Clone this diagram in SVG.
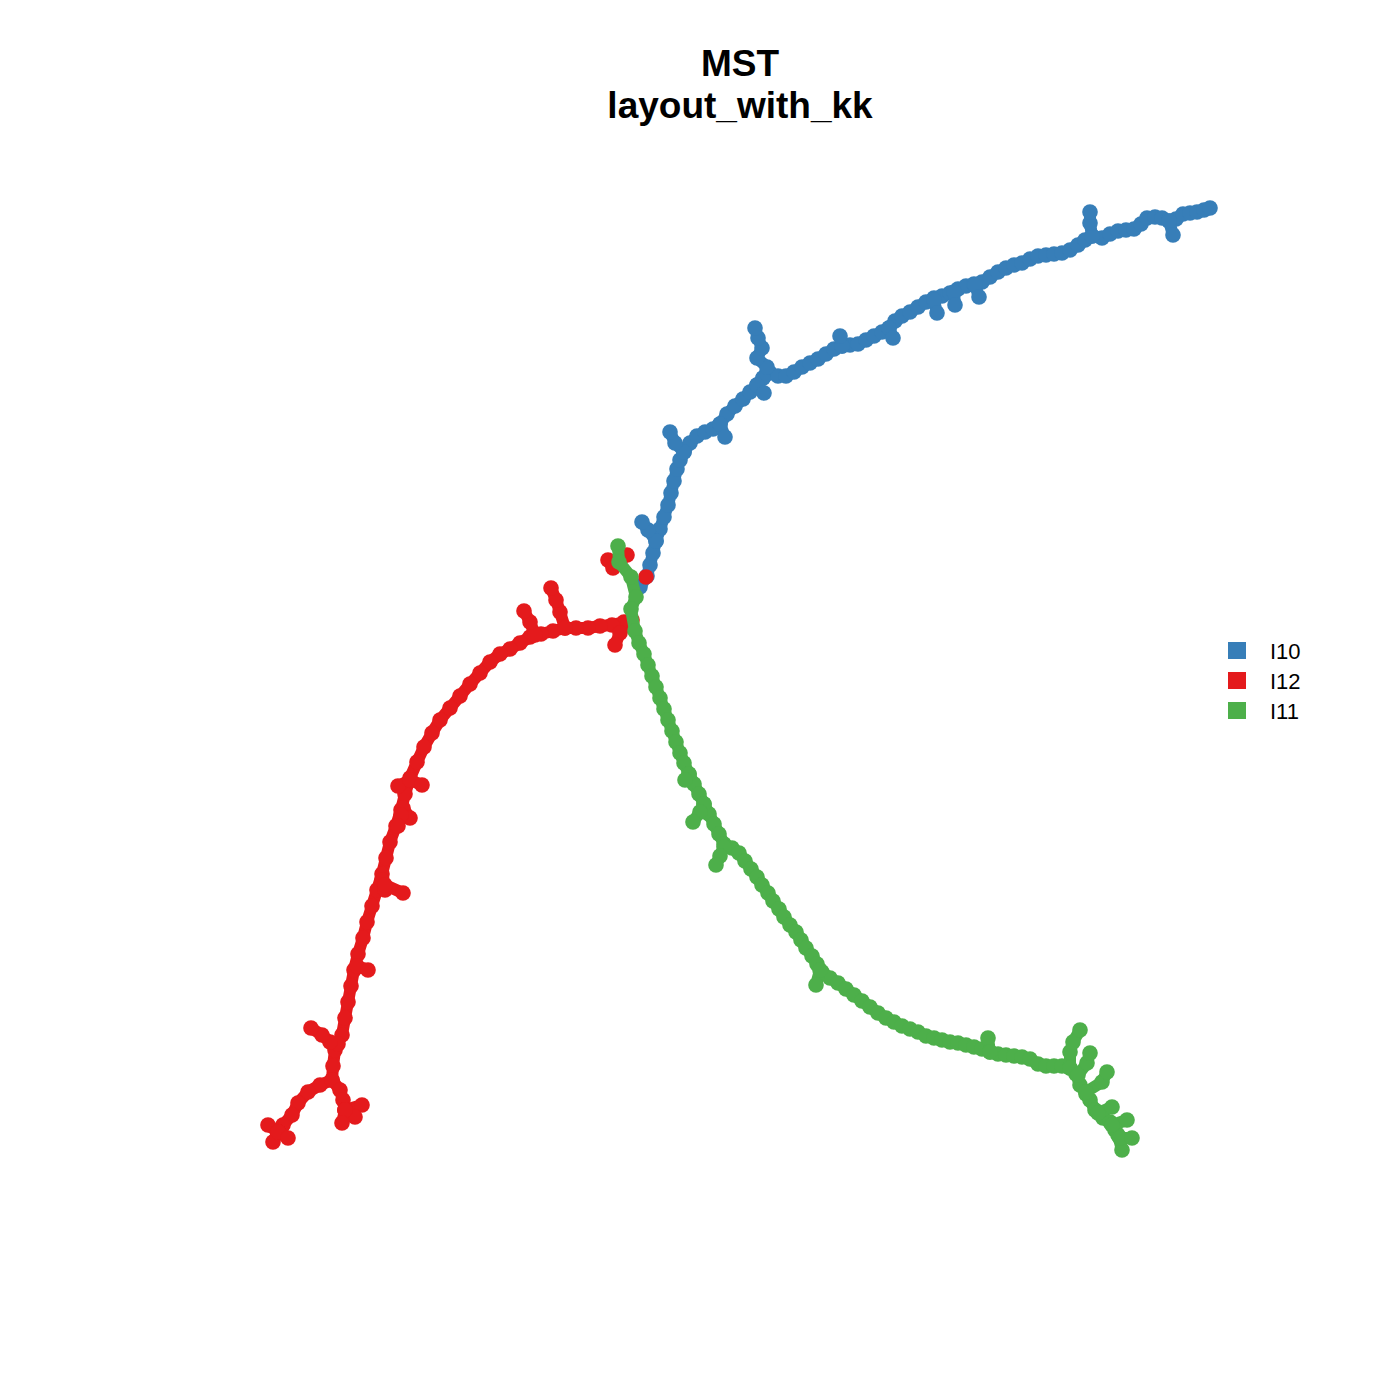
<svg xmlns="http://www.w3.org/2000/svg" width="1400" height="1400" viewBox="0 0 1400 1400">
<style>
.t{font-family:"Liberation Sans",Arial,sans-serif;font-weight:bold;font-size:37px;text-anchor:middle;fill:#000}
.lg{font-family:"Liberation Sans",Arial,sans-serif;font-size:22px;fill:#000}
.b{fill:none;stroke:#377EB8;stroke-width:12;stroke-linejoin:round;stroke-linecap:round;marker-start:url(#mb);marker-mid:url(#mb);marker-end:url(#mb)}
.r{fill:none;stroke:#E41A1C;stroke-width:12;stroke-linejoin:round;stroke-linecap:round;marker-start:url(#mr);marker-mid:url(#mr);marker-end:url(#mr)}
.g{fill:none;stroke:#4DAF4A;stroke-width:12;stroke-linejoin:round;stroke-linecap:round;marker-start:url(#mg);marker-mid:url(#mg);marker-end:url(#mg)}
</style>
<defs>
<marker id="mb" markerUnits="userSpaceOnUse" markerWidth="18" markerHeight="18" refX="9" refY="9" overflow="visible"><circle cx="9" cy="9" r="7.8" fill="#377EB8"/></marker>
<marker id="mr" markerUnits="userSpaceOnUse" markerWidth="18" markerHeight="18" refX="9" refY="9" overflow="visible"><circle cx="9" cy="9" r="7.8" fill="#E41A1C"/></marker>
<marker id="mg" markerUnits="userSpaceOnUse" markerWidth="18" markerHeight="18" refX="9" refY="9" overflow="visible"><circle cx="9" cy="9" r="7.8" fill="#4DAF4A"/></marker>
</defs>
<rect width="1400" height="1400" fill="#fff"/>
<text class="t" x="740" y="76">MST</text>
<text class="t" x="740" y="118">layout_with_kk</text>
<g id="connectors"></g>
<g id="cluster-I10">
<polyline class="b" points="640,587 647,576 650,565 653,553 656,541 660,529 664,517 668,505 671,493 674,481 677,469 680,460 684,452 690,443 697,436 705,432 713,429 720,424 727,414 735,406 743,399 750,392 757,385 763,378 770,373 778,376 786,376 794,372 802,367 810,363 818,359 826,354 834,349 842,346 850,345 858,344 866,340 874,336 882,332 889,328 895,321 902,316 910,312 918,307 926,302 934,298 942,296 950,293 958,289 966,286 974,284 982,282 990,277 998,272 1006,268 1014,265 1022,263 1030,259 1038,256 1046,255 1054,254 1062,253 1070,250 1078,245 1085,240 1092,236 1102,238 1110,234 1118,231 1126,230 1134,229 1141,224 1147,218 1155,217 1162,218 1169,221 1176,219 1183,214 1190,213 1197,212 1204,210 1210,208"/>
<polyline class="b" points="656,541 648,530 642,522"/>
<polyline class="b" points="684,452 675,443 670,432"/>
<polyline class="b" points="720,424 725,437"/>
<polyline class="b" points="763,378 767,367 757,358 762,348 758,338 755,328"/>
<polyline class="b" points="757,385 764,393"/>
<polyline class="b" points="842,346 840,336"/>
<polyline class="b" points="889,328 893,338"/>
<polyline class="b" points="934,300 937,313"/>
<polyline class="b" points="954,292 955,305"/>
<polyline class="b" points="975,285 979,297"/>
<polyline class="b" points="1092,236 1090,223 1090,212"/>
<polyline class="b" points="1169,221 1173,235"/>
</g>
<g id="cluster-I12">
<polyline class="r" points="632,620 624,622 612,625 600,626 588,628 576,628 565,628 553,631 541,634 530,637 520,643 510,649 500,654 490,662 480,673 470,684 460,696 450,708 440,720 432,733 424,747 417,762 410,778 405,794 401,810 396,826 390,842 386,858 382,874 377,890 372,906 367,922 363,938 358,954 354,970 351,986 348,1002 345,1018 342,1035 335,1050 333,1066 332,1080 320,1085 308,1092 298,1103 292,1115 283,1125 278,1132"/>
<polyline class="r" points="278,1132 268,1125"/>
<polyline class="r" points="278,1132 273,1142"/>
<polyline class="r" points="278,1132 288,1138"/>
<polyline class="r" points="332,1080 340,1090 343,1100 345,1110 362,1105"/>
<polyline class="r" points="345,1110 355,1117"/>
<polyline class="r" points="345,1110 342,1123"/>
<polyline class="r" points="338,1044 330,1042 322,1035 311,1028"/>
<polyline class="r" points="357,966 368,970"/>
<polyline class="r" points="382,880 385,890"/>
<polyline class="r" points="385,885 403,893"/>
<polyline class="r" points="403,808 410,818"/>
<polyline class="r" points="401,815 398,826"/>
<polyline class="r" points="398,786 410,780 422,785"/>
<polyline class="r" points="535,635 530,622 524,611"/>
<polyline class="r" points="565,628 560,612 556,600 551,588"/>
<polyline class="r" points="628,622 620,633 615,645"/>
<polyline class="r" points="608,560 613,568 619,562 627,555"/>
<circle cx="646" cy="577" r="7.8" fill="#E41A1C"/>
</g>
<g id="cluster-I11">
<polyline class="g" points="618,546 619,562 631,577 636,597 631,609 635,631 639,643 644,654 648,665 652,676 656,687 660,698 664,709 668,720 672,731 676,742 680,753 684,763 689,774 694,784 699,794 704,804 709,814 714,824 719,834 724,844 732,848 739,853 745,861 751,869 757,877 762,885 768,893 773,901 779,909 784,917 790,925 796,932 801,940 806,948 812,956 817,964 822,972 830,978 838,983 846,989 854,995 862,1001 870,1007 878,1013 886,1018 894,1022 902,1026 910,1029 918,1032 926,1036 934,1038 942,1040 950,1042 958,1043 966,1045 974,1047 982,1049 990,1052 998,1054 1006,1055 1014,1056 1022,1057 1030,1059 1038,1064 1046,1066 1054,1066 1062,1066 1070,1068 1076,1074 1080,1085 1086,1094 1090,1100 1095,1110 1103,1118 1110,1122 1115,1130 1118,1135 1122,1150"/>
<polyline class="g" points="689,774 685,780"/>
<polyline class="g" points="704,804 700,812 693,822"/>
<polyline class="g" points="724,847 720,856 716,865"/>
<polyline class="g" points="820,970 816,985"/>
<polyline class="g" points="988,1038 990,1052"/>
<polyline class="g" points="1070,1068 1070,1052 1073,1042 1080,1030"/>
<polyline class="g" points="1078,1075 1087,1063 1090,1053"/>
<polyline class="g" points="1086,1092 1102,1082 1107,1072"/>
<polyline class="g" points="1098,1113 1112,1107"/>
<polyline class="g" points="1112,1125 1127,1120"/>
<polyline class="g" points="1120,1138 1132,1138"/>
</g>
<g id="legend">
<rect x="1228" y="642" width="18" height="17" fill="#377EB8"/>
<rect x="1228" y="672" width="18" height="17" fill="#E41A1C"/>
<rect x="1228" y="702" width="18" height="17" fill="#4DAF4A"/>
<text class="lg" x="1270" y="659">I10</text>
<text class="lg" x="1270" y="689">I12</text>
<text class="lg" x="1270" y="719">I11</text>
</g>
</svg>
